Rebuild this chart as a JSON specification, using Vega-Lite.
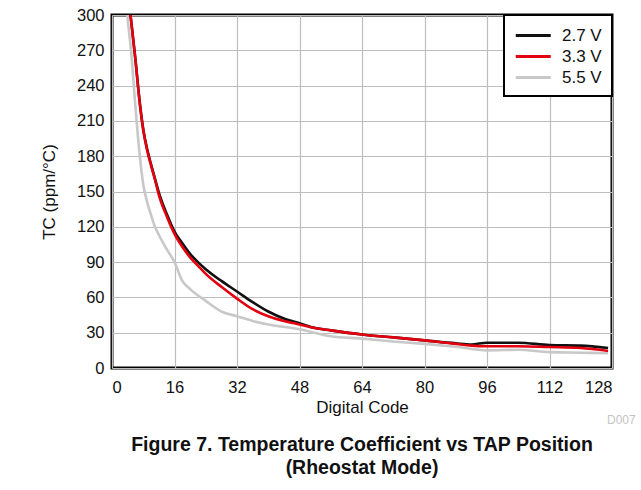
{
  "$schema": "https://vega.github.io/schema/vega-lite/v6.json",
  "autosize": {"type": "none"},
  "width": 500,
  "height": 353,
  "padding": {"left": 112, "top": 15, "right": 29, "bottom": 122},
  "background": "white",
  "title": {
    "text": ["Figure 7. Temperature Coefficient vs TAP Position", "(Rheostat Mode)"],
    "orient": "bottom",
    "anchor": "middle",
    "font": "Liberation Sans",
    "fontSize": 19.5,
    "fontWeight": "bold",
    "lineHeight": 23,
    "color": "#111",
    "offset": 10
  },
  "config": {
    "view": {"stroke": "#000", "strokeWidth": 3},
    "font": "Liberation Sans",
    "axis": {
      "labelFont": "Liberation Sans",
      "titleFont": "Liberation Sans",
      "labelFontSize": 16.5,
      "titleFontSize": 17,
      "titleFontWeight": "normal",
      "labelColor": "#111",
      "titleColor": "#111",
      "gridColor": "#bdbdbd",
      "gridWidth": 1.2,
      "gridOpacity": 1,
      "domain": false,
      "ticks": false,
      "labelOverlap": false
    },
    "legend": {
      "strokeColor": "#000",
      "strokeWidth": 2,
      "fillColor": "white",
      "padding": 10,
      "labelFont": "Liberation Sans",
      "labelFontSize": 17,
      "labelColor": "#111"
    }
  },
  "layer": [
    {
      "data": {
        "values": [
          {"code": 4, "tc": 321, "supply": "2.7 V"},
          {"code": 5, "tc": 292, "supply": "2.7 V"},
          {"code": 6, "tc": 262, "supply": "2.7 V"},
          {"code": 7, "tc": 229, "supply": "2.7 V"},
          {"code": 8, "tc": 203, "supply": "2.7 V"},
          {"code": 9, "tc": 186, "supply": "2.7 V"},
          {"code": 10, "tc": 173, "supply": "2.7 V"},
          {"code": 11, "tc": 161, "supply": "2.7 V"},
          {"code": 12, "tc": 149, "supply": "2.7 V"},
          {"code": 14, "tc": 131, "supply": "2.7 V"},
          {"code": 16, "tc": 116, "supply": "2.7 V"},
          {"code": 18, "tc": 106, "supply": "2.7 V"},
          {"code": 20, "tc": 97, "supply": "2.7 V"},
          {"code": 22, "tc": 90, "supply": "2.7 V"},
          {"code": 24, "tc": 84, "supply": "2.7 V"},
          {"code": 28, "tc": 74, "supply": "2.7 V"},
          {"code": 32, "tc": 65, "supply": "2.7 V"},
          {"code": 36, "tc": 56, "supply": "2.7 V"},
          {"code": 40, "tc": 48, "supply": "2.7 V"},
          {"code": 44, "tc": 42, "supply": "2.7 V"},
          {"code": 48, "tc": 38, "supply": "2.7 V"},
          {"code": 52, "tc": 34, "supply": "2.7 V"},
          {"code": 56, "tc": 32, "supply": "2.7 V"},
          {"code": 64, "tc": 28.5, "supply": "2.7 V"},
          {"code": 72, "tc": 26, "supply": "2.7 V"},
          {"code": 80, "tc": 23.5, "supply": "2.7 V"},
          {"code": 88, "tc": 21, "supply": "2.7 V"},
          {"code": 92, "tc": 20, "supply": "2.7 V"},
          {"code": 96, "tc": 21.5, "supply": "2.7 V"},
          {"code": 104, "tc": 21.5, "supply": "2.7 V"},
          {"code": 112, "tc": 19.5, "supply": "2.7 V"},
          {"code": 120, "tc": 19, "supply": "2.7 V"},
          {"code": 127, "tc": 17, "supply": "2.7 V"},

          {"code": 4, "tc": 321, "supply": "3.3 V"},
          {"code": 5, "tc": 292, "supply": "3.3 V"},
          {"code": 6, "tc": 262, "supply": "3.3 V"},
          {"code": 7, "tc": 228, "supply": "3.3 V"},
          {"code": 8, "tc": 202, "supply": "3.3 V"},
          {"code": 9, "tc": 185, "supply": "3.3 V"},
          {"code": 10, "tc": 172, "supply": "3.3 V"},
          {"code": 11, "tc": 160, "supply": "3.3 V"},
          {"code": 12, "tc": 147, "supply": "3.3 V"},
          {"code": 14, "tc": 129, "supply": "3.3 V"},
          {"code": 16, "tc": 114, "supply": "3.3 V"},
          {"code": 18, "tc": 103, "supply": "3.3 V"},
          {"code": 20, "tc": 94, "supply": "3.3 V"},
          {"code": 22, "tc": 87, "supply": "3.3 V"},
          {"code": 24, "tc": 80, "supply": "3.3 V"},
          {"code": 28, "tc": 69, "supply": "3.3 V"},
          {"code": 32, "tc": 59, "supply": "3.3 V"},
          {"code": 36, "tc": 50, "supply": "3.3 V"},
          {"code": 40, "tc": 44, "supply": "3.3 V"},
          {"code": 44, "tc": 40, "supply": "3.3 V"},
          {"code": 48, "tc": 37, "supply": "3.3 V"},
          {"code": 52, "tc": 34, "supply": "3.3 V"},
          {"code": 56, "tc": 32, "supply": "3.3 V"},
          {"code": 64, "tc": 28.5, "supply": "3.3 V"},
          {"code": 72, "tc": 26, "supply": "3.3 V"},
          {"code": 80, "tc": 23.5, "supply": "3.3 V"},
          {"code": 88, "tc": 20.5, "supply": "3.3 V"},
          {"code": 92, "tc": 19, "supply": "3.3 V"},
          {"code": 96, "tc": 18.5, "supply": "3.3 V"},
          {"code": 104, "tc": 18.5, "supply": "3.3 V"},
          {"code": 112, "tc": 17.8, "supply": "3.3 V"},
          {"code": 120, "tc": 17, "supply": "3.3 V"},
          {"code": 127, "tc": 14.5, "supply": "3.3 V"},

          {"code": 3, "tc": 330, "supply": "5.5 V"},
          {"code": 4, "tc": 297, "supply": "5.5 V"},
          {"code": 5, "tc": 265, "supply": "5.5 V"},
          {"code": 6, "tc": 222, "supply": "5.5 V"},
          {"code": 7, "tc": 184, "supply": "5.5 V"},
          {"code": 8, "tc": 156, "supply": "5.5 V"},
          {"code": 9, "tc": 141, "supply": "5.5 V"},
          {"code": 10, "tc": 130, "supply": "5.5 V"},
          {"code": 11, "tc": 120, "supply": "5.5 V"},
          {"code": 12, "tc": 113, "supply": "5.5 V"},
          {"code": 14, "tc": 101, "supply": "5.5 V"},
          {"code": 16, "tc": 90, "supply": "5.5 V"},
          {"code": 18, "tc": 74, "supply": "5.5 V"},
          {"code": 20, "tc": 67, "supply": "5.5 V"},
          {"code": 24, "tc": 57, "supply": "5.5 V"},
          {"code": 28, "tc": 48, "supply": "5.5 V"},
          {"code": 32, "tc": 44, "supply": "5.5 V"},
          {"code": 36, "tc": 40, "supply": "5.5 V"},
          {"code": 40, "tc": 37, "supply": "5.5 V"},
          {"code": 48, "tc": 33, "supply": "5.5 V"},
          {"code": 56, "tc": 27, "supply": "5.5 V"},
          {"code": 64, "tc": 25, "supply": "5.5 V"},
          {"code": 72, "tc": 22.5, "supply": "5.5 V"},
          {"code": 80, "tc": 20.5, "supply": "5.5 V"},
          {"code": 88, "tc": 18, "supply": "5.5 V"},
          {"code": 96, "tc": 15, "supply": "5.5 V"},
          {"code": 104, "tc": 15.5, "supply": "5.5 V"},
          {"code": 112, "tc": 13.5, "supply": "5.5 V"},
          {"code": 120, "tc": 13, "supply": "5.5 V"},
          {"code": 127, "tc": 12.5, "supply": "5.5 V"}
        ]
      },
      "mark": {"type": "line", "strokeWidth": 2.6, "clip": true, "interpolate": "monotone"},
      "encoding": {
        "x": {
          "field": "code",
          "type": "quantitative",
          "scale": {"domain": [0, 128], "nice": false},
          "axis": {
            "title": "Digital Code",
            "values": [0, 16, 32, 48, 64, 80, 96, 112, 128],
            "tickCount": 12,
            "labelPadding": 11,
            "titlePadding": 4
          }
        },
        "y": {
          "field": "tc",
          "type": "quantitative",
          "scale": {"domain": [0, 300], "nice": false},
          "axis": {
            "title": "TC (ppm/°C)",
            "values": [0, 30, 60, 90, 120, 150, 180, 210, 240, 270, 300],
            "tickCount": 14,
            "labelPadding": 8,
            "titlePadding": 18
          }
        },
        "color": {
          "field": "supply",
          "type": "nominal",
          "scale": {"domain": ["2.7 V", "3.3 V", "5.5 V"], "range": ["#111111", "#e3000f", "#c8c8c8"]},
          "legend": {
            "title": null,
            "orient": "top-right",
            "offset": 0,
            "symbolType": "M-1,0H3",
            "symbolSize": 306,
            "symbolStrokeWidth": 3,
            "labelOffset": 27
          }
        },
        "order": {"field": "code", "type": "quantitative"}
      }
    },
    {
      "data": {"values": [{"code": 128, "tc": 0, "label": "D007"}]},
      "mark": {"type": "text", "align": "left", "baseline": "middle", "dx": -5, "dy": 52, "fontSize": 12, "color": "#c4c4c4", "font": "Liberation Sans"},
      "encoding": {
        "x": {"field": "code", "type": "quantitative"},
        "y": {"field": "tc", "type": "quantitative"},
        "text": {"field": "label"}
      }
    }
  ]
}
